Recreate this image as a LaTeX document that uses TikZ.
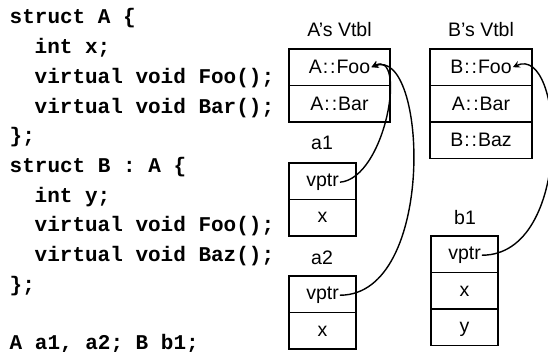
\documentclass[tikz,border=0pt]{standalone}
\usepackage{fontspec}
\setmainfont{Liberation Sans}
\newfontfamily\codefont{Liberation Mono}
\usetikzlibrary{arrows.meta}
\newcommand\dcol{\kern0.05em:\kern0.1em:\kern0.05em}
\begin{document}
\begin{tikzpicture}[x=1pt,y=-1pt,
  cell/.style={draw,line width=1.9pt,minimum height=36.5pt,inner sep=0pt,outer sep=0pt},
  ctext/.style={inner sep=0pt,anchor=base,font=\fontsize{19.5}{21}\selectfont},
  lbl/.style={inner sep=0pt,anchor=base,font=\fontsize{19.5}{21}\selectfont},
  code/.style={inner sep=0pt,anchor=base west,font=\codefont\bfseries\fontsize{21}{24}\selectfont},
  ptr/.style={line width=1.4pt,-{Stealth[length=7pt,width=7pt,inset=2.5pt]}}]
\useasboundingbox (0,0) rectangle (548,352);

% code
\node[code] (l1) at (9.5,24) {struct A \{};
\node[code] (l2) at (34.5,53.7) {int x;};
\node[code] (l3) at (34.5,83.4) {virtual void Foo();};
\node[code] (l4) at (34.5,113.1) {virtual void Bar();};
\node[code] (l5) at (9.5,142.8) {\};};
\node[code] (l6) at (9.5,172.5) {struct B : A \{};
\node[code] (l7) at (34.5,202.2) {int y;};
\node[code] (l8) at (34.5,231.9) {virtual void Foo();};
\node[code] (l9) at (34.5,261.6) {virtual void Baz();};
\node[code] (l10) at (9.5,291.3) {\};};
\node[code] (l11) at (9.5,349) {A a1, a2; B b1;};

% labels
\node[lbl] (avt) at (339.5,37) {A’s Vtbl};
\node[lbl] (bvt) at (481,37) {B’s Vtbl};
\node[lbl] (a1l) at (322,150) {a1};
\node[lbl] (a2l) at (322,265) {a2};
\node[lbl] (b1l) at (465,225) {b1};

% A vtbl
\node[cell,minimum width=101pt] (afoo) at (339.5,67.25) {};
\node[cell,minimum width=101pt] (abar) at (339.5,103.75) {};
\node[ctext] (afoot) at (339.5,73.8) {A\dcol Foo};
\node[ctext] (abart) at (339.5,110.3) {A\dcol Bar};

% B vtbl
\node[cell,minimum width=102pt] (bfoo) at (481,67.25) {};
\node[cell,minimum width=102pt] (bbar) at (481,103.75) {};
\node[cell,minimum width=102pt] (bbaz) at (481,140.25) {};
\node[ctext] (bfoot) at (481,73.8) {B\dcol Foo};
\node[ctext] (bbart) at (481,110.3) {A\dcol Bar};
\node[ctext] (bbazt) at (481,146.8) {B\dcol Baz};

% a1
\node[cell,minimum width=67pt] (a1v) at (322.5,181.25) {};
\node[cell,minimum width=67pt] (a1x) at (322.5,217.75) {};
\node[ctext] (a1vt) at (322.5,186.5) {vptr};
\node[ctext] (a1xt) at (322.5,223) {x};

% a2
\node[cell,minimum width=67pt] (a2v) at (322.5,294.25) {};
\node[cell,minimum width=67pt] (a2x) at (322.5,330.75) {};
\node[ctext] (a2vt) at (322.5,299.5) {vptr};
\node[ctext] (a2xt) at (322.5,336) {x};

% b1
\node[cell,minimum width=67pt] (b1v) at (464.5,254.25) {};
\node[cell,minimum width=67pt] (b1x) at (464.5,290.75) {};
\node[cell,minimum width=67pt] (b1y) at (464.5,327.25) {};
\node[ctext] (b1vt) at (464.5,259.5) {vptr};
\node[ctext] (b1xt) at (464.5,296) {x};
\node[ctext] (b1yt) at (464.5,332.5) {y};

% pointers
\draw[ptr] ([xshift=1pt]a1vt.east) .. controls +(46,-4) and +(36,-18) .. ([xshift=1pt]afoot.east);
\draw[ptr] ([xshift=1pt]a2vt.east) .. controls +(97,0) and +(56,-22) .. ([xshift=1pt]afoot.east);
\draw[ptr] ([xshift=1pt]b1vt.east) .. controls +(92,0) and +(52,-24) .. ([xshift=1pt]bfoot.east);
\end{tikzpicture}
\end{document}
